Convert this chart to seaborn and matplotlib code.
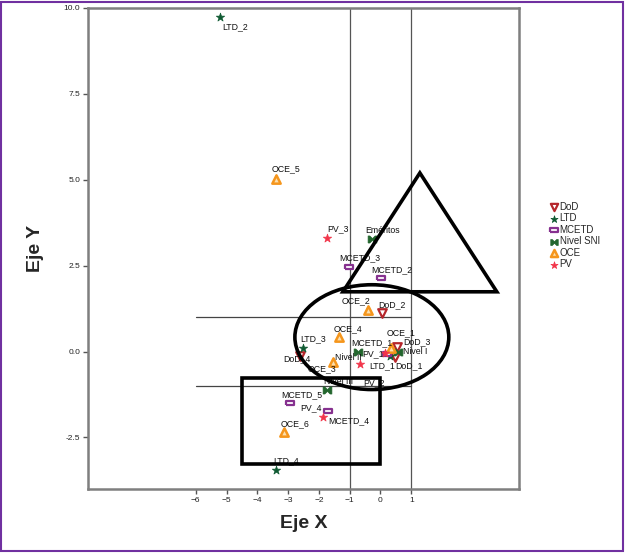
import matplotlib
matplotlib.use("Agg")
import matplotlib.pyplot as plt
from matplotlib.patches import Ellipse, Polygon, Rectangle
import numpy as np
import pandas as pd
import seaborn as sns

# data
dod_names = ["DoD_1", "DoD_2", "DoD_3", "DoD_4"]
dod_x = [0.46, 0.06, 0.53, -2.61]
dod_y = [-0.17, 1.12, 0.12, -0.12]

ltd_names = ["LTD_1", "LTD_2", "LTD_3", "LTD_4"]
ltd_x = [0.30, -5.21, -2.52, -3.40]
ltd_y = [-0.12, 9.74, 0.09, -3.46]

mcetd_names = ["MCETD_1", "MCETD_2", "MCETD_3", "MCETD_4", "MCETD_5"]
mcetd_x = [0.20, 0.01, -1.03, -1.70, -2.94]
mcetd_y = [-0.06, 2.15, 2.47, -1.74, -1.51]

sni_names = ["Eméritos", "Nivel I", "Nivel II", "Nivel III"]
sni_x = [-0.28, 0.56, -0.74, -1.74]
sni_y = [3.28, 0.00, 0.00, -1.13]

oce_names = ["OCE_1", "OCE_2", "OCE_3", "OCE_4", "OCE_5", "OCE_6"]
oce_x = [0.33, -0.41, -1.55, -1.36, -3.40, -3.14]
oce_y = [0.09, 1.22, -0.29, 0.41, 5.03, -2.35]

pv_names = ["PV_1", "PV_2", "PV_3", "PV_4"]
pv_x = [-0.67, 0.14, -1.74, -1.88]
pv_y = [-0.35, -0.03, 3.31, -1.89]

groups = ["DoD", "LTD", "MCETD", "Nivel SNI", "OCE", "PV"]

frames = []
for g, n, xs, ys in zip(groups,
                        [dod_names, ltd_names, mcetd_names, sni_names, oce_names, pv_names],
                        [dod_x, ltd_x, mcetd_x, sni_x, oce_x, pv_x],
                        [dod_y, ltd_y, mcetd_y, sni_y, oce_y, pv_y]):
    frames.append(pd.DataFrame({"grupo": g, "nombre": n, "x": xs, "y": ys}))
df = pd.concat(frames, ignore_index=True)

# label offsets (pixels, right / down)
label_off = {
    "DoD_1": (1, 8), "DoD_2": (-4, -8), "DoD_3": (6, -6), "DoD_4": (-17, 3),
    "LTD_1": (-20, 10), "LTD_2": (2, 10), "LTD_3": (-3, -10), "LTD_4": (-3, -10),
    "MCETD_1": (-35, -11), "MCETD_2": (-10, -8), "MCETD_3": (-10, -9),
    "MCETD_4": (0, 9), "MCETD_5": (-9, -9),
    "Eméritos": (-7, -8), "Nivel I": (5, 0), "Nivel II": (-23, 6), "Nivel III": (-3, -9),
    "OCE_1": (-4, -16), "OCE_2": (-26, -9), "OCE_3": (-25, 7), "OCE_4": (-5, -9),
    "OCE_5": (-4, -10), "OCE_6": (-3, -9),
    "PV_1": (2, -10), "PV_2": (-22, 30), "PV_3": (0, -9), "PV_4": (-22, -9),
}

rect_marker = [(-1, -0.55), (1, -0.55), (1, 0.55), (-1, 0.55), (-1, -0.55)]
bowtie = [(-1, -0.8), (-1, 0.8), (-0.6, 0.8), (0, 0.2), (0.6, 0.8), (1, 0.8),
          (1, -0.8), (0.6, -0.8), (0, -0.2), (-0.6, -0.8), (-1, -0.8)]

styles = {
    "DoD": dict(marker="v", color="white", edgecolor="#b5262b", linewidth=1.6, s=38),
    "LTD": dict(marker="*", color="#0f5a32", edgecolor="#0f5a32", linewidth=0.5, s=40),
    "MCETD": dict(marker=rect_marker, color="white", edgecolor="#86318f", linewidth=1.6, s=40),
    "Nivel SNI": dict(marker=bowtie, color="#23662e", edgecolor="#23662e", linewidth=0.5, s=40),
    "OCE": dict(marker="^", color="#fbe0b0", edgecolor="#f5961d", linewidth=1.8, s=36),
    "PV": dict(marker="*", color="#f2354a", edgecolor="#f2354a", linewidth=0.5, s=40),
}

sns.set_style("white")
plt.rcParams["font.family"] = ["Liberation Sans", "DejaVu Sans"]

fig = plt.figure(figsize=(6.25, 5.53), dpi=100)
ax = fig.add_axes([88 / 625, 1 - 489 / 553, (519 - 88) / 625, (489 - 8) / 553])

# reference lines
for xv in [-1, 1]:
    ax.axvline(xv, color="#555555", lw=0.9, zorder=1)
for yv in [-1, 1]:
    ax.plot([-6, 1], [yv, yv], color="#444444", lw=0.9, zorder=1)

for g in groups:
    sub = df[df["grupo"] == g]
    sns.scatterplot(data=sub, x="x", y="y", ax=ax, label=g, zorder=3, **styles[g])

for _, r in df.iterrows():
    dx, dy = label_off[r["nombre"]]
    ax.annotate(r["nombre"], (r["x"], r["y"]), xytext=(dx * 0.72, -dy * 0.72),
                textcoords="offset points", fontsize=6.3, ha="left", va="center",
                color="#111111", zorder=4)

# hand drawn highlight shapes
tri = Polygon([(1.28, 5.2), (-1.22, 1.74), (3.78, 1.74)], closed=True,
              fill=False, ec="black", lw=2.6, zorder=5)
ax.add_patch(tri)
ell = Ellipse((-0.28, 0.42), 5.0, 3.05, fill=False, ec="black", lw=2.6, zorder=5)
ax.add_patch(ell)
box = Rectangle((-4.5, -3.28), 4.5, 2.52, fill=False, ec="black", lw=2.6, zorder=5)
ax.add_patch(box)

ax.set_xlim(-9.5, 4.5)
ax.set_ylim(-4, 10)
ax.set_xticks(np.arange(-6, 2, 1))
ax.set_yticks([-2.5, 0.0, 2.5, 5.0, 7.5, 10.0])
ax.set_yticklabels(["-2.5", "0.0", "2.5", "5.0", "7.5", "10.0"])
ax.tick_params(axis="both", direction="out", length=3.5, width=1, color="#555555",
               labelsize=6, labelcolor="#222222", pad=2)
ax.tick_params(bottom=True, left=True)
for sp in ax.spines.values():
    sp.set_color("#7f7f7f")
    sp.set_linewidth(1.8)

ax.set_xlabel("Eje X", fontsize=14, fontweight="bold", labelpad=8)
ax.set_ylabel("Eje Y", fontsize=14, fontweight="bold", labelpad=14)

leg = ax.legend(loc="upper left", bbox_to_anchor=(0.872, 0.642),
                bbox_transform=fig.transFigure, frameon=False, fontsize=7,
                handletextpad=0.1, labelspacing=0.15, borderaxespad=0,
                handlelength=1.0, markerscale=0.85)

# purple page border
fig.patches.append(Rectangle((0.002, 0.003), 0.995, 0.994, transform=fig.transFigure,
                             fill=False, ec="#7030a0", lw=1.5))

fig.savefig("out.png", dpi=100)
